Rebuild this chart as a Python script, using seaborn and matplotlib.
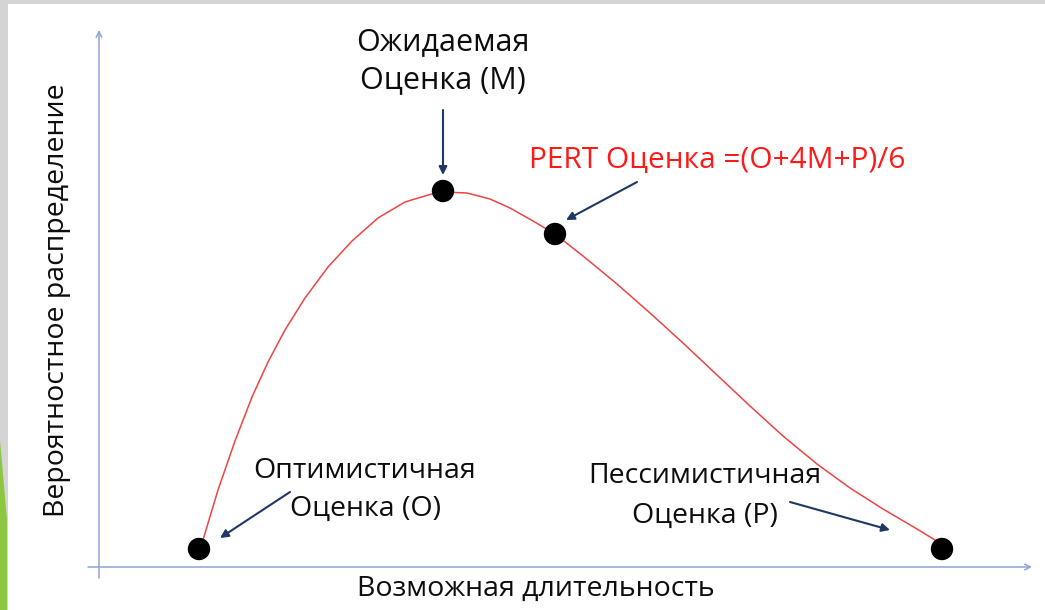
"""PERT estimate sketch: beta-like distribution of possible durations."""
import matplotlib
matplotlib.use("Agg")
import matplotlib.pyplot as plt
from matplotlib.patches import Polygon, Rectangle
import pandas as pd
import seaborn as sns

# curve (duration vs. probability density, arbitrary units)
curve_x = [1.04, 1.19, 1.36, 1.53, 1.69, 1.86, 2.06, 2.29, 2.53, 2.79, 3.06,
           3.36, 3.44, 3.68, 3.91, 4.11, 4.34, 4.56, 4.84, 5.18, 5.51, 5.84,
           6.18, 6.51, 6.84, 7.18, 7.51, 7.84, 8.18, 8.41]
curve_y = [0.27, 0.77, 1.26, 1.70, 2.05, 2.37, 2.69, 3.00, 3.26, 3.49, 3.65,
           3.74, 3.75, 3.74, 3.68, 3.59, 3.46, 3.33, 3.11, 2.83, 2.54, 2.24,
           1.92, 1.61, 1.31, 1.03, 0.79, 0.58, 0.38, 0.24]

# the four marked estimates: O, M, PERT, P
point_names = ["O", "M", "PERT", "P"]
point_x = [1.00, 3.44, 4.56, 8.43]
point_y = [0.18, 3.76, 3.33, 0.18]

labels = {
    "M": "Ожидаемая\nОценка (M)",
    "PERT": "PERT Оценка =(O+4M+P)/6",
    "O": "Оптимистичная\nОценка (O)",
    "P": "Пессимистичная\nОценка (P)",
}
x_label = "Возможная длительность"
y_label = "Вероятностное распределение"

sns.set_theme(style="white")
plt.rcParams["font.family"] = ["Open Sans", "DejaVu Sans"]

W, H = 1045, 610
fig = plt.figure(figsize=(W / 100, H / 100), dpi=100, facecolor="#d4d4d4")
# slide area: white, with a thin grey frame on the top and left
fig.patches.append(Rectangle((8 / W, 0), (W - 8) / W, (H - 4) / H,
                             transform=fig.transFigure, facecolor="white",
                             edgecolor="none", zorder=-3))
# green slide decoration at the lower left
fig.patches.append(Polygon([[0, 0], [7 / W, 0], [7 / W, 90 / H], [0, 170 / H]],
                           closed=True, transform=fig.transFigure,
                           facecolor="#8dc63f", edgecolor="none", zorder=-2))

ax = fig.add_axes([8 / W, 0, (W - 8) / W, (H - 4) / H])
ax.set_xlim((8 - 99) / 100, (W - 99) / 100)
ax.set_ylim((567 - H) / 100, (567 - 4) / 100)
ax.set_axis_off()

df_curve = pd.DataFrame({"x": curve_x, "y": curve_y})
df_pts = pd.DataFrame({"name": point_names, "x": point_x, "y": point_y})

axis_col = "#8ea4d2"
ax.annotate("", xy=(0, 5.37), xytext=(0, -0.11),
            arrowprops=dict(arrowstyle="->", color=axis_col, lw=1.1,
                            mutation_scale=10, shrinkA=0, shrinkB=0))
ax.annotate("", xy=(9.33, 0), xytext=(-0.11, 0),
            arrowprops=dict(arrowstyle="->", color=axis_col, lw=1.1,
                            mutation_scale=10, shrinkA=0, shrinkB=0))

sns.lineplot(data=df_curve, x="x", y="y", sort=False, color="#ee4444",
             lw=1.1, ax=ax)
sns.scatterplot(data=df_pts, x="x", y="y", color="black", s=260,
                edgecolor="none", ax=ax, zorder=5)

txt = dict(fontsize=20.5, color="#0d0d0d", ha="center", va="center")
ax.text(3.44, 5.06, labels["M"], fontsize=22, linespacing=1.38,
        **{k: v for k, v in txt.items() if k != "fontsize"})
ax.text(2.66, 0.77, labels["O"], linespacing=1.5, **txt)
ax.text(6.06, 0.71, labels["P"], linespacing=1.55, **txt)
ax.text(6.18, 4.07, labels["PERT"], fontsize=21.5, color="#ff1a1a",
        ha="center", va="center")
ax.text(4.37, -0.22, x_label, **txt)
ax.text(-0.42, 2.67, y_label, rotation=90, **txt)

arr_col = "#1f3864"
arrows = [((3.44, 4.57), (3.44, 3.92)),
          ((5.38, 3.85), (4.67, 3.47)),
          ((1.91, 0.75), (1.21, 0.29)),
          ((6.91, 0.65), (7.91, 0.37))]
for (x0, y0), (x1, y1) in arrows:
    ax.annotate("", xy=(x1, y1), xytext=(x0, y0),
                arrowprops=dict(arrowstyle="-|>", color=arr_col, lw=1.5,
                                mutation_scale=12, shrinkA=0, shrinkB=0))

fig.savefig("out.png", dpi=100, facecolor=fig.get_facecolor())
plt.close(fig)
